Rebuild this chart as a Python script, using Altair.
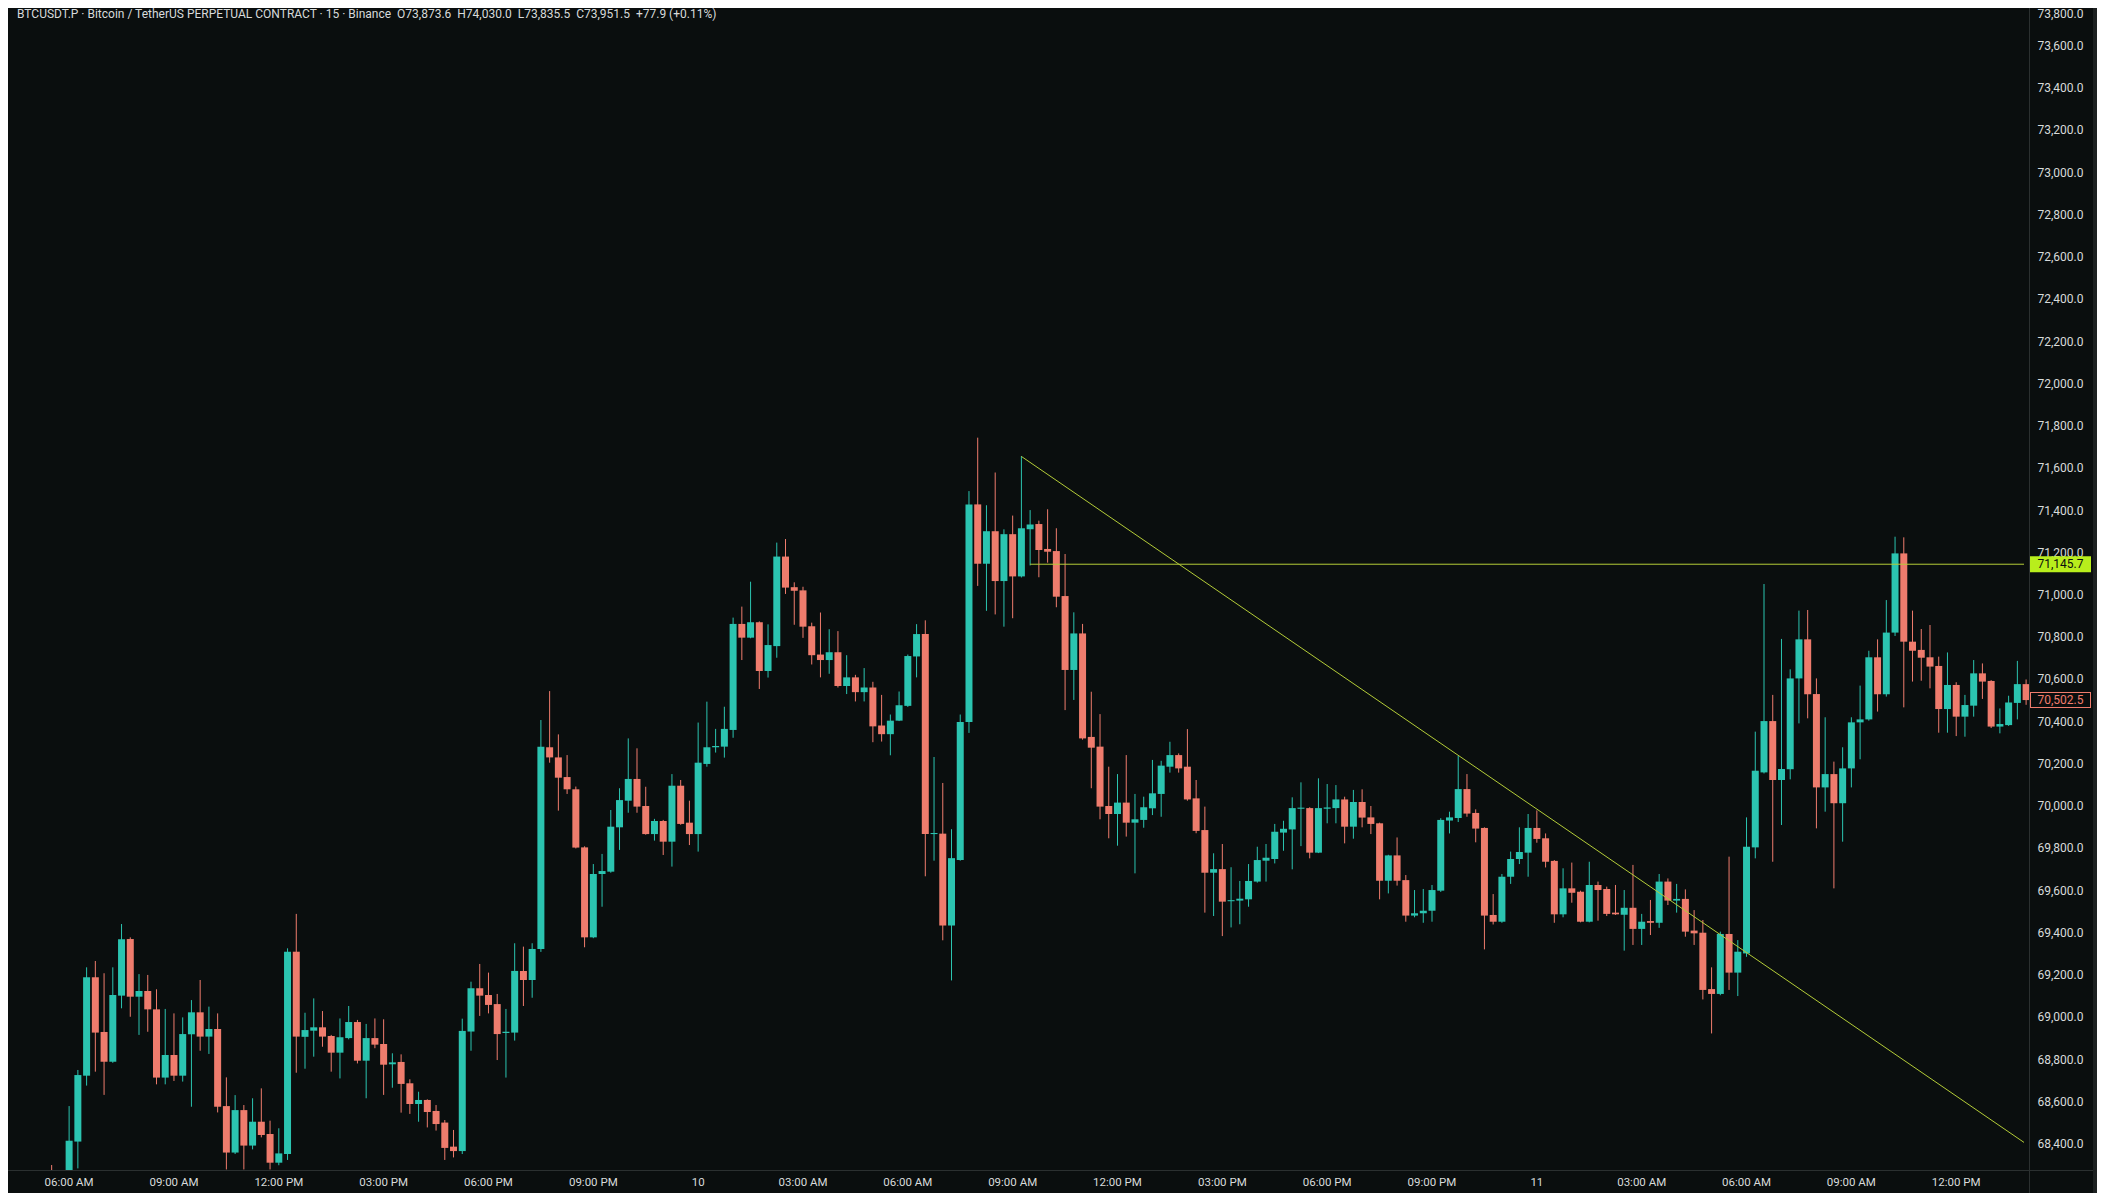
import altair as alt
import pandas as pd

# ---------------- data (15-min candles, index 0 = 06:00 AM on the 9th) ----------------
FIRST_INDEX = -2

opens = [
    68250, 68180, 68240, 68412, 68724, 69190, 68931, 68790, 69103, 69371,
    69098, 69125, 69038, 68715, 68822, 68724, 68920, 69024, 68909, 68945,
    68580, 68360, 68561, 68393, 68506, 68448, 68312, 68353, 69311, 68908,
    68937, 68953, 68912, 68833, 68902, 68978, 68795, 68902, 68874, 68778,
    68789, 68688, 68590, 68609, 68557, 68502, 68388, 68367, 68933, 69138,
    69106, 69063, 68926, 68928, 69220, 69177, 69324, 70279, 70231, 70138,
    70080, 69805, 69379, 69679, 69690, 69900, 70026, 70129, 70001, 69868,
    69930, 69832, 70097, 69922, 69868, 70200, 70279, 70282, 70361, 70863,
    70798, 70871, 70640, 70758, 71182, 71037, 71022, 70852, 70718, 70692,
    70729, 70569, 70610, 70540, 70562, 70382, 70341, 70405, 70475, 70709,
    70815, 69868, 69870, 69435, 69745, 70399, 71429, 71148, 71302, 71066,
    71288, 71088, 71311, 71336, 71218, 71208, 70995, 70645, 70818, 70328,
    70282, 70001, 69963, 70017, 69922, 69935, 69990, 70058, 70187, 70242,
    70187, 70037, 69887, 69685, 69702, 69550, 69553, 69559, 69643, 69742,
    69750, 69875, 69890, 69988, 69991, 69780, 69988, 69991, 70032, 69903,
    70020, 69947, 69919, 69647, 69767, 69650, 69482, 69493, 69505, 69600,
    69932, 69944, 70081, 69968, 69897, 69485, 69453, 69666, 69750, 69780,
    69897, 69848, 69741, 69488, 69611, 69595, 69453, 69627, 69608, 69496,
    69486, 69519, 69419, 69456, 69448, 69643, 69553, 69561, 69411, 69401,
    69134, 69111, 69395, 69212, 69303, 69805, 70160, 70403, 70124, 70175,
    70605, 70790, 70531, 70089, 70152, 70014, 70179, 70397, 70411, 70705,
    70530, 70822, 71197, 70779, 70740, 70705, 70664, 70460, 70574, 70424,
    70476, 70629, 70593, 70377, 70384, 70489, 70578,
]

highs = [
    68301, 68262, 68580, 68751, 69237, 69267, 69209, 69237, 69442, 69379,
    69205, 69201, 69133, 69040, 69019, 69000, 69082, 69177, 69051, 69019,
    68716, 68632, 68585, 68617, 68664, 68511, 68475, 69327, 69490, 69022,
    69090, 69030, 68917, 68995, 69054, 68988, 68969, 68995, 68991, 68830,
    68825, 68707, 68648, 68612, 68585, 68514, 68467, 68994, 69169, 69253,
    69212, 69111, 69040, 69351, 69335, 69351, 70408, 70545, 70340, 70242,
    70093, 69810, 69726, 69774, 69982, 70085, 70321, 70274, 70092, 69940,
    69935, 70152, 70124, 70026, 70396, 70495, 70366, 70471, 70893, 70945,
    71063, 70875, 70861, 71248, 71265, 71060, 71039, 70869, 70917, 70838,
    70829, 70715, 70622, 70654, 70589, 70527, 70434, 70543, 70718, 70862,
    70880, 70233, 70110, 69891, 70434, 71492, 71745, 71425, 71580, 71311,
    71376, 71658, 71402, 71352, 71406, 71316, 71194, 70918, 70863, 70542,
    70436, 70187, 70152, 70242, 70058, 70045, 70219, 70215, 70305, 70250,
    70365, 70124, 69998, 69777, 69821, 69711, 69646, 69726, 69808, 69821,
    69916, 69931, 70042, 70113, 69995, 70132, 70105, 70100, 70045, 70077,
    70080, 70001, 69922, 69770, 69852, 69674, 69603, 69608, 69627, 69943,
    69974, 70239, 70152, 69985, 69900, 69584, 69679, 69785, 69900, 69963,
    69980, 69871, 69745, 69706, 69733, 69600, 69737, 69643, 69619, 69627,
    69603, 69722, 69490, 69556, 69679, 69658, 69632, 69606, 69508, 69461,
    69237, 69406, 69761, 69366, 69947, 70353, 71052, 70527, 70792, 70648,
    70926, 70929, 70605, 70421, 70211, 70279, 70421, 70571, 70736, 70790,
    70976, 71276, 71273, 70926, 70839, 70858, 70708, 70728, 70587, 70527,
    70692, 70676, 70597, 70463, 70523, 70688, 70600,
]

lows = [
    68120, 68150, 68200, 68285, 68677, 68743, 68633, 68785, 69043, 69003,
    68917, 68932, 68683, 68683, 68699, 68696, 68577, 68842, 68827, 68550,
    68280, 68353, 68280, 68375, 68432, 68280, 68300, 68325, 68738, 68757,
    68814, 68861, 68743, 68711, 68896, 68782, 68617, 68854, 68633, 68667,
    68549, 68543, 68506, 68479, 68464, 68325, 68337, 68353, 68842, 69007,
    69019, 68798, 68715, 68890, 69054, 69093, 69310, 70206, 69979, 70058,
    69800, 69332, 69375, 69524, 69685, 69793, 69969, 69969, 69865, 69837,
    69769, 69714, 69912, 69816, 69785, 70187, 70254, 70230, 70324, 70692,
    70795, 70555, 70609, 70703, 71005, 70859, 70797, 70671, 70610, 70627,
    70562, 70531, 70496, 70496, 70303, 70306, 70241, 70403, 70470, 70610,
    69668, 69742, 69365, 69175, 69742, 70347, 71043, 70925, 70908, 70850,
    70890, 71083, 71140, 71084, 71153, 70942, 70455, 70503, 70315, 70085,
    69938, 69848, 69813, 69856, 69682, 69898, 69958, 69950, 70159, 70159,
    70026, 69872, 69496, 69480, 69385, 69426, 69441, 69524, 69638, 69643,
    69729, 69789, 69701, 69811, 69753, 69778, 69919, 69919, 69824, 69846,
    69900, 69868, 69559, 69587, 69624, 69453, 69474, 69448, 69453, 69594,
    69871, 69925, 69950, 69829, 69322, 69440, 69448, 69632, 69726, 69666,
    69827, 69710, 69448, 69474, 69543, 69450, 69450, 69458, 69480, 69485,
    69316, 69343, 69343, 69390, 69424, 69532, 69496, 69382, 69343, 69085,
    68924, 69105, 69130, 69101, 69287, 69753, 70155, 69737, 69911, 70127,
    70392, 70416, 69895, 69974, 69611, 69832, 70089, 70222, 70405, 70448,
    70519, 70806, 70468, 70590, 70594, 70558, 70348, 70348, 70332, 70329,
    70424, 70508, 70370, 70345, 70380, 70411, 70480,
]

closes = [
    68180, 68240, 68416, 68727, 69190, 68928, 68790, 69106, 69370, 69098,
    69125, 69038, 68715, 68822, 68724, 68921, 69024, 68909, 68945, 68577,
    68360, 68561, 68393, 68506, 68443, 68312, 68356, 69311, 68909, 68940,
    68953, 68909, 68833, 68906, 68978, 68795, 68902, 68871, 68776, 68787,
    68685, 68590, 68609, 68552, 68495, 68382, 68367, 68936, 69138, 69103,
    69059, 68921, 68932, 69220, 69177, 69324, 70282, 70231, 70135, 70080,
    69804, 69379, 69679, 69693, 69903, 70029, 70129, 69998, 69868, 69930,
    69832, 70097, 69916, 69868, 70206, 70279, 70285, 70366, 70863, 70798,
    70871, 70640, 70763, 71182, 71035, 71020, 70850, 70715, 70692, 70729,
    70569, 70610, 70540, 70562, 70378, 70341, 70405, 70478, 70711, 70815,
    69868, 69873, 69435, 69754, 70399, 71429, 71148, 71302, 71066, 71288,
    71088, 71316, 71334, 71213, 71205, 70992, 70645, 70818, 70321, 70277,
    69998, 69963, 70017, 69922, 69938, 69995, 70061, 70192, 70242, 70179,
    70032, 69883, 69685, 69702, 69548, 69555, 69562, 69646, 69745, 69756,
    69879, 69893, 69991, 69993, 69780, 69991, 69994, 70032, 69903, 70020,
    69946, 69916, 69647, 69767, 69647, 69482, 69493, 69505, 69603, 69935,
    69947, 70081, 69965, 69894, 69482, 69453, 69666, 69750, 69783, 69897,
    69845, 69737, 69488, 69611, 69590, 69453, 69627, 69603, 69490, 69488,
    69519, 69419, 69453, 69448, 69643, 69553, 69561, 69406, 69398, 69130,
    69111, 69395, 69212, 69311, 69808, 70168, 70403, 70124, 70176, 70605,
    70790, 70530, 70089, 70152, 70014, 70179, 70397, 70411, 70705, 70530,
    70822, 71197, 70779, 70736, 70703, 70661, 70460, 70574, 70424, 70479,
    70629, 70590, 70377, 70389, 70491, 70578, 70502.5,
]

n_index = list(range(FIRST_INDEX, FIRST_INDEX + len(opens)))

# x ticks every 3 hours (12 candles)
tick_index = [0, 12, 24, 36, 48, 60, 72, 84, 96, 108, 120, 132, 144, 156, 168, 180, 192, 204, 216]
tick_labels = ["06:00 AM", "09:00 AM", "12:00 PM", "03:00 PM", "06:00 PM", "09:00 PM", "10",
               "03:00 AM", "06:00 AM", "09:00 AM", "12:00 PM", "03:00 PM", "06:00 PM", "09:00 PM",
               "11", "03:00 AM", "06:00 AM", "09:00 AM", "12:00 PM"]
y_ticks = list(range(68400, 73601, 200))
y_tick_labels = [f"{v:,.1f}" for v in y_ticks]
top_tick_label = ["73,800.0"]

trend_n = [109, 223.76]
trend_p = [71656, 68408]
level_n = [110, 223.76]
level_p = [71145.7]
level_label = ["71,145.7"]
last_p = [70502.5]
last_label = ["70,502.5"]

header = ("BTCUSDT.P · Bitcoin / TetherUS PERPETUAL CONTRACT · 15 · Binance\u00a0\u00a0"
          "O73,873.6\u00a0\u00a0H74,030.0\u00a0\u00a0L73,835.5\u00a0\u00a0C73,951.5\u00a0\u00a0+77.9 (+0.11%)")

# ---------------- styling / layout ----------------
BG = "#0a0e0e"
UP = "#2bc4b0"
DOWN = "#ef7c6d"
LINE = "#b4cc38"
LIME = "#b8ee1c"
TXT = "#d8dbdb"
SEP = "#2b3030"
STRIP = "#1d2121"
FONT = "Roboto"

TOTAL_W, TOTAL_H = 2089, 1185
W, H = 2021, 1162
X_DOMAIN = [-6.424, 223.76]
Y_DOMAIN = [68277.4, 73779.4]

df = pd.DataFrame({"n": n_index, "open": opens, "high": highs, "low": lows, "close": closes})
df["dir"] = ["up" if c >= o else "down" for o, c in zip(df["open"], df["close"])]

xs = alt.Scale(domain=X_DOMAIN, nice=False, zero=False)
ys = alt.Scale(domain=Y_DOMAIN, nice=False, zero=False)
color = alt.Color("dir:N", scale=alt.Scale(domain=["up", "down"], range=[UP, DOWN]), legend=None)


def X(field):
    return alt.X(field, scale=xs, axis=None)


def Y(field):
    return alt.Y(field, scale=ys, axis=None)


wicks = alt.Chart(df).mark_rule(strokeWidth=1, clip=True).encode(
    x=X("n:Q"), y=Y("low:Q"), y2="high:Q", color=color)
bodies = alt.Chart(df).mark_bar(size=7, clip=True).encode(
    x=X("n:Q"), y=Y("open:Q"), y2="close:Q", color=color)

trend = alt.Chart(pd.DataFrame({"n": trend_n, "p": trend_p})).mark_line(
    color=LINE, strokeWidth=1, clip=True).encode(x=X("n:Q"), y=Y("p:Q"))

level = alt.Chart(pd.DataFrame({"n": [level_n[0]], "n2": [level_n[1]], "p": level_p})).mark_rule(
    color=LINE, strokeWidth=1, clip=True).encode(x=X("n:Q"), x2="n2:Q", y=Y("p:Q"))

# axis labels (drawn as text through the same scales)
xlab = alt.Chart(pd.DataFrame({"n": tick_index, "t": tick_labels})).mark_text(
    align="center", baseline="middle", color=TXT, font=FONT, fontSize=11.5).encode(
    x=X("n:Q"), y=alt.value(H + 12.7), text="t:N")
ylab = alt.Chart(pd.DataFrame({"v": y_ticks, "t": y_tick_labels})).mark_text(
    align="left", baseline="middle", color=TXT, font=FONT, fontSize=12).encode(
    x=alt.value(W + 8.5), y=Y("v:Q"), text="t:N")
ylab_top = alt.Chart(pd.DataFrame({"t": top_tick_label})).mark_text(
    align="left", baseline="middle", color=TXT, font=FONT, fontSize=12).encode(
    x=alt.value(W + 8.5), y=alt.value(5.5), text="t:N")

lvl_df = pd.DataFrame({"p": level_p, "label": level_label})
lvl_box = alt.Chart(lvl_df).mark_rule(color=LIME, strokeWidth=16).encode(
    x=alt.value(W + 1), x2=alt.value(W + 62), y=Y("p:Q"))
lvl_txt = alt.Chart(lvl_df).mark_text(align="left", baseline="middle", color=BG, font=FONT,
                                      fontSize=12).encode(
    x=alt.value(W + 8.5), y=Y("p:Q"), text="label:N")

last_df = pd.DataFrame({"p": last_p, "label": last_label})
last_box = alt.Chart(last_df).mark_rule(color=DOWN, strokeWidth=16).encode(
    x=alt.value(W + 1), x2=alt.value(W + 62), y=Y("p:Q"))
last_in = alt.Chart(last_df).mark_rule(color=BG, strokeWidth=14).encode(
    x=alt.value(W + 2), x2=alt.value(W + 61), y=Y("p:Q"))
last_txt = alt.Chart(last_df).mark_text(align="left", baseline="middle", color=DOWN, font=FONT,
                                        fontSize=12).encode(
    x=alt.value(W + 8.5), y=Y("p:Q"), text="label:N")

one = pd.DataFrame({"k": [0]})
hline = alt.Chart(one).mark_rule(color=SEP, strokeWidth=1).encode(
    x=alt.value(0), x2=alt.value(TOTAL_W), y=alt.value(H + 0.5))
vline = alt.Chart(one).mark_rule(color=SEP, strokeWidth=1).encode(
    x=alt.value(W + 0.5), y=alt.value(0), y2=alt.value(TOTAL_H))
right_strip = alt.Chart(one).mark_rect(color=STRIP).encode(
    x=alt.value(TOTAL_W - 4), x2=alt.value(TOTAL_W), y=alt.value(0), y2=alt.value(TOTAL_H))

title_txt = alt.Chart(one).mark_text(align="left", baseline="middle", color=TXT, font=FONT,
                                     fontSize=12).encode(
    x=alt.value(9), y=alt.value(6.3), text=alt.value(header))

chart = alt.layer(
    hline, vline, right_strip,
    wicks, bodies, trend, level,
    xlab, ylab, ylab_top,
    lvl_box, lvl_txt, last_box, last_in, last_txt, title_txt,
).properties(
    width=W,
    height=H,
    padding={"left": 0, "top": 0, "right": TOTAL_W - W, "bottom": TOTAL_H - H},
    autosize=alt.AutoSizeParams(type="none"),
    background=BG,
).configure_view(stroke=None)

chart.save("out.html", embed_options={"renderer": "svg", "actions": False})
